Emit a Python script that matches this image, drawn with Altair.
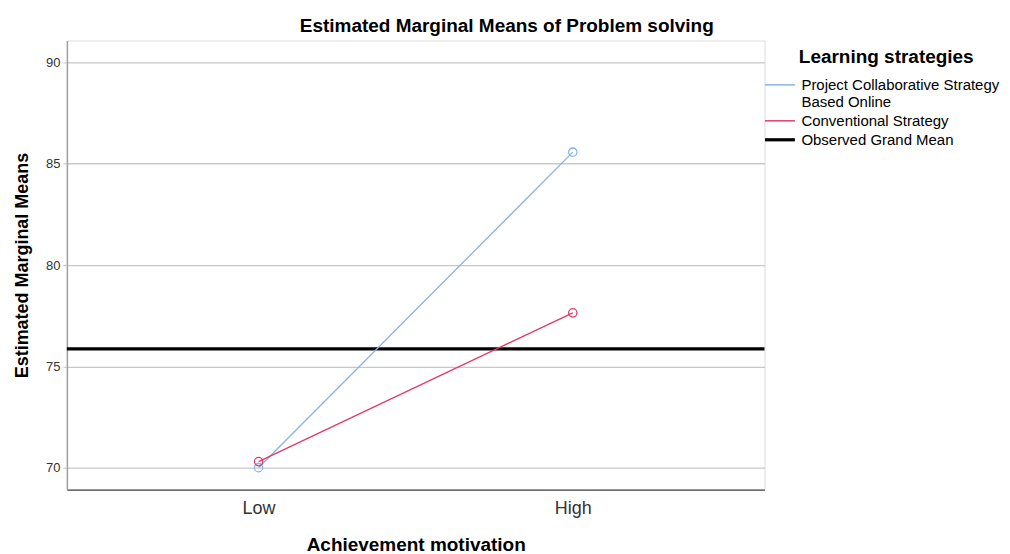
import altair as alt
import pandas as pd

strategies = ["Project Collaborative Strategy Based Online", "Conventional Strategy"]
motivation = ["Low", "High"]
means_project = [70.0, 85.57]
means_conventional = [70.3, 77.64]
grand_mean_label = "Observed Grand Mean"
grand_mean = 75.86
y_ticks = [70, 75, 80, 85, 90]

rows = []
for lvl, v in zip(motivation, means_project):
    rows.append({"Motivation": lvl, "Series": strategies[0], "Mean": v})
for lvl, v in zip(motivation, means_conventional):
    rows.append({"Motivation": lvl, "Series": strategies[1], "Mean": v})
df = pd.DataFrame(rows)
gm = pd.DataFrame({"Series": [grand_mean_label], "Mean": [grand_mean]})

domain = strategies + [grand_mean_label]
color_scale = alt.Scale(domain=domain, range=["#86b4e9", "#e23a66", "#000000"])

FONT = "Liberation Sans"

legend = alt.Legend(
    title="Learning strategies",
    orient="none",
    legendX=707,
    legendY=8,
    symbolType="stroke",
    symbolSize=900,
    symbolStrokeWidth=alt.ExprRef(expr="datum.value === 'Observed Grand Mean' ? 3.2 : 1.5"),
    labelFont=FONT,
    labelFontSize=15,
    labelColor="#000000",
    labelLimit=400,
    labelOffset=14,
    titleFont=FONT,
    titleFontSize=19,
    titleFontWeight="bold",
    titleColor="#000000",
    titleAnchor="middle",
    titlePadding=10,
    rowPadding=3,
    padding=0,
    labelExpr="datum.label == 'Project Collaborative Strategy Based Online' ? ['Project Collaborative Strategy', 'Based Online'] : datum.label",
)

y_enc = alt.Y(
    "Mean:Q",
    scale=alt.Scale(domain=[68.92, 91.08], nice=False, zero=False),
    axis=alt.Axis(
        title="Estimated Marginal Means",
        values=y_ticks,
        grid=True,
        gridColor="#c8c8c8",
        gridWidth=1.3,
        domainColor="#a0a0a0",
        domainWidth=1.5,
        tickColor="#c8c8c8",
        tickSize=4,
        labelPadding=3,
        labelFont=FONT,
        labelFontSize=13,
        labelColor="#333333",
        titleFont=FONT,
        titleFontSize=18,
        titleFontWeight="bold",
        titleColor="#000000",
        titlePadding=14,
    ),
)

lines = alt.Chart(df).mark_line(
    strokeWidth=1.3,
    point=alt.OverlayMarkDef(filled=False, fill="transparent", size=70, strokeWidth=1.3),
).encode(
    x=alt.X(
        "Motivation:N",
        sort=motivation,
        scale=alt.Scale(type="point", padding=0.61),
        axis=alt.Axis(
            title="Achievement motivation",
            grid=False,
            ticks=False,
            domainColor="#444444",
            domainWidth=1.3,
            labelAngle=0,
            labelPadding=10,
            labelFont=FONT,
            labelFontSize=18,
            labelColor="#333333",
            titleFont=FONT,
            titleFontSize=19,
            titleFontWeight="bold",
            titleColor="#000000",
            titlePadding=18,
        ),
    ),
    y=y_enc,
    color=alt.Color("Series:N", sort=domain, scale=color_scale, legend=legend),
)

rule = alt.Chart(gm).mark_rule(strokeWidth=3.2).encode(
    y=alt.Y("Mean:Q"),
    color=alt.Color("Series:N", sort=domain, scale=color_scale, legend=legend),
)

chart = alt.layer(rule, lines).properties(
    width=699,
    height=450,
    padding={"left": 5, "top": 8, "right": 2, "bottom": 2},
    title=alt.TitleParams(
        "Estimated Marginal Means of Problem solving",
        font=FONT,
        fontSize=19,
        fontWeight="bold",
        color="#000000",
        anchor="middle",
        frame="bounds",
        offset=5,
    ),
).configure_view(strokeWidth=0).configure(background="white")

chart.save("out.html", embed_options={"renderer": "svg", "actions": False})
